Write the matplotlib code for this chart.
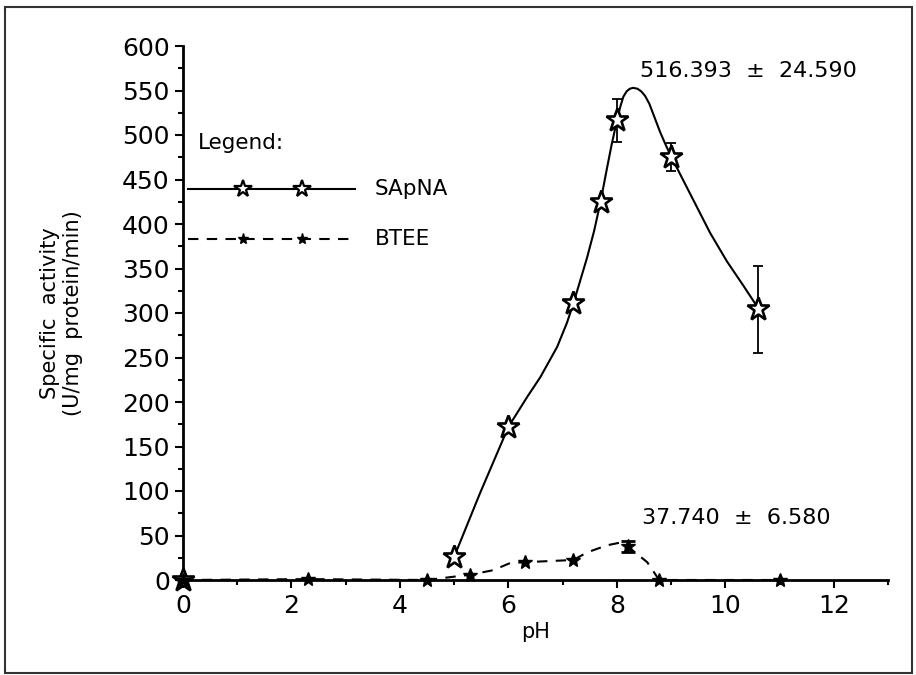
import matplotlib
matplotlib.use("Agg")
import matplotlib.pyplot as plt
import numpy as np
from matplotlib.patches import Rectangle
from matplotlib.ticker import MultipleLocator

# SApNA measured points (pH, specific activity, error)
sapna_ph = np.array([0.0, 5.0, 6.0, 7.2, 7.7, 8.0, 9.0, 10.6])
sapna_act = np.array([0.0, 26.0, 172.0, 311.0, 425.0, 516.393, 475.0, 304.0])
sapna_err = np.array([0.0, 0.0, 0.0, 0.0, 0.0, 24.590, 16.0, 49.0])

# smooth fitted curve
sapna_fit_ph = [5.0, 5.48, 6.0, 6.35, 6.59, 6.9, 7.08, 7.2, 7.45, 7.58, 7.7, 7.8,
                7.9, 8.0, 8.06, 8.12, 8.18, 8.24, 8.3, 8.38, 8.45, 8.52, 8.6,
                8.7, 8.8, 8.9, 9.0, 9.2, 9.41, 9.72, 10.03, 10.33, 10.6]
sapna_fit_act = [26, 98, 172, 206, 228, 262, 289, 311, 362, 392, 425, 457,
                 488, 516, 531, 543, 549, 552, 553, 552, 549, 544, 535,
                 519, 503, 489, 476, 452, 427, 390, 358, 331, 306]

# BTEE measured points
btee_ph = np.array([0.0, 2.3, 4.5, 5.3, 6.3, 7.2, 8.2, 8.78, 11.0])
btee_act = np.array([0.0, 1.0, 0.0, 6.0, 20.0, 22.5, 37.740, 0.0, 0.0])
btee_err = np.array([0.0, 0.0, 0.0, 0.0, 0.0, 0.0, 6.580, 0.0, 0.0])

btee_fit_ph = [0.0, 2.3, 4.5, 5.3, 5.72, 6.03, 6.3, 7.2, 7.45, 7.82, 8.06, 8.2,
               8.56, 8.78, 11.0]
btee_fit_act = [0, 1, 0, 6, 11, 19, 20, 22.5, 31, 39, 42, 37.7, 20, 0, 0]

plt.rcParams['font.family'] = 'DejaVu Sans'

fig = plt.figure(figsize=(9.16, 6.75), dpi=100)
ax = fig.add_axes([183 / 916, 1 - 580 / 675, 705 / 916, 534 / 675])

dash = (0, (5, 4))
ax.plot(sapna_fit_ph, sapna_fit_act, color='black', lw=1.5)
ax.plot(btee_fit_ph, btee_fit_act, color='black', lw=1.5, linestyle=dash)

m = sapna_err > 0
ax.errorbar(sapna_ph[m], sapna_act[m], yerr=sapna_err[m], fmt='none',
            ecolor='black', elinewidth=1.3, capsize=3.5, capthick=1.3)
m = btee_err > 0
ax.errorbar(btee_ph[m], btee_act[m], yerr=btee_err[m], fmt='none',
            ecolor='black', elinewidth=1.5, capsize=5, capthick=2)

ax.plot(sapna_ph, sapna_act, linestyle='none', marker='*', ms=17,
        mfc='white', mec='black', mew=1.9, clip_on=False, zorder=5)
ax.plot(btee_ph, btee_act, linestyle='none', marker='*', ms=10,
        mfc='black', mec='black', clip_on=False, zorder=6)

# hand-drawn legend, as in the original
lx = (np.array([188, 243, 302, 355]) - 183) / 705
ax.plot(lx, [0.732] * 4, transform=ax.transAxes, color='black', lw=1.5,
        marker='*', ms=13, mfc='white', mec='black', mew=1.6, markevery=[1, 2])
ax.plot(lx, [0.639] * 4, transform=ax.transAxes, color='black', lw=1.5,
        linestyle=dash, marker='*', ms=8, mfc='black', mec='black', markevery=[1, 2])
ax.text(0.021, 0.818, 'Legend:', transform=ax.transAxes, fontsize=15.5, va='center')
ax.text(0.272, 0.732, 'SApNA', transform=ax.transAxes, fontsize=15.5, va='center')
ax.text(0.272, 0.639, 'BTEE', transform=ax.transAxes, fontsize=15.5, va='center')

ax.text(8.43, 572, '516.393  \u00b1  24.590', fontsize=16, va='center')
ax.text(8.47, 70, '37.740  \u00b1  6.580', fontsize=16, va='center')

ax.set_xlim(0, 13)
ax.set_ylim(0, 600)
ax.xaxis.set_major_locator(MultipleLocator(2))
ax.xaxis.set_minor_locator(MultipleLocator(1))
ax.yaxis.set_major_locator(MultipleLocator(50))
ax.yaxis.set_minor_locator(MultipleLocator(25))
ax.tick_params(which='both', direction='out', width=1.5, labelsize=18)
ax.tick_params(which='major', length=6)
ax.tick_params(which='minor', length=3.5)
ax.tick_params(axis='y', pad=3.5)
ax.tick_params(axis='x', pad=4)

for s in ['top', 'right']:
    ax.spines[s].set_visible(False)
for s in ['left', 'bottom']:
    ax.spines[s].set_linewidth(2)

ax.set_xlabel('pH', fontsize=15, labelpad=3)
ax.set_ylabel('Specific  activity\n(U/mg  protein/min)', fontsize=15, labelpad=28)

fig.patches.append(Rectangle((5 / 916, 2 / 675), 907 / 916, 666 / 675,
                             transform=fig.transFigure, fill=False,
                             edgecolor='#333333', lw=1.5))

fig.savefig('out.png', dpi=100)
